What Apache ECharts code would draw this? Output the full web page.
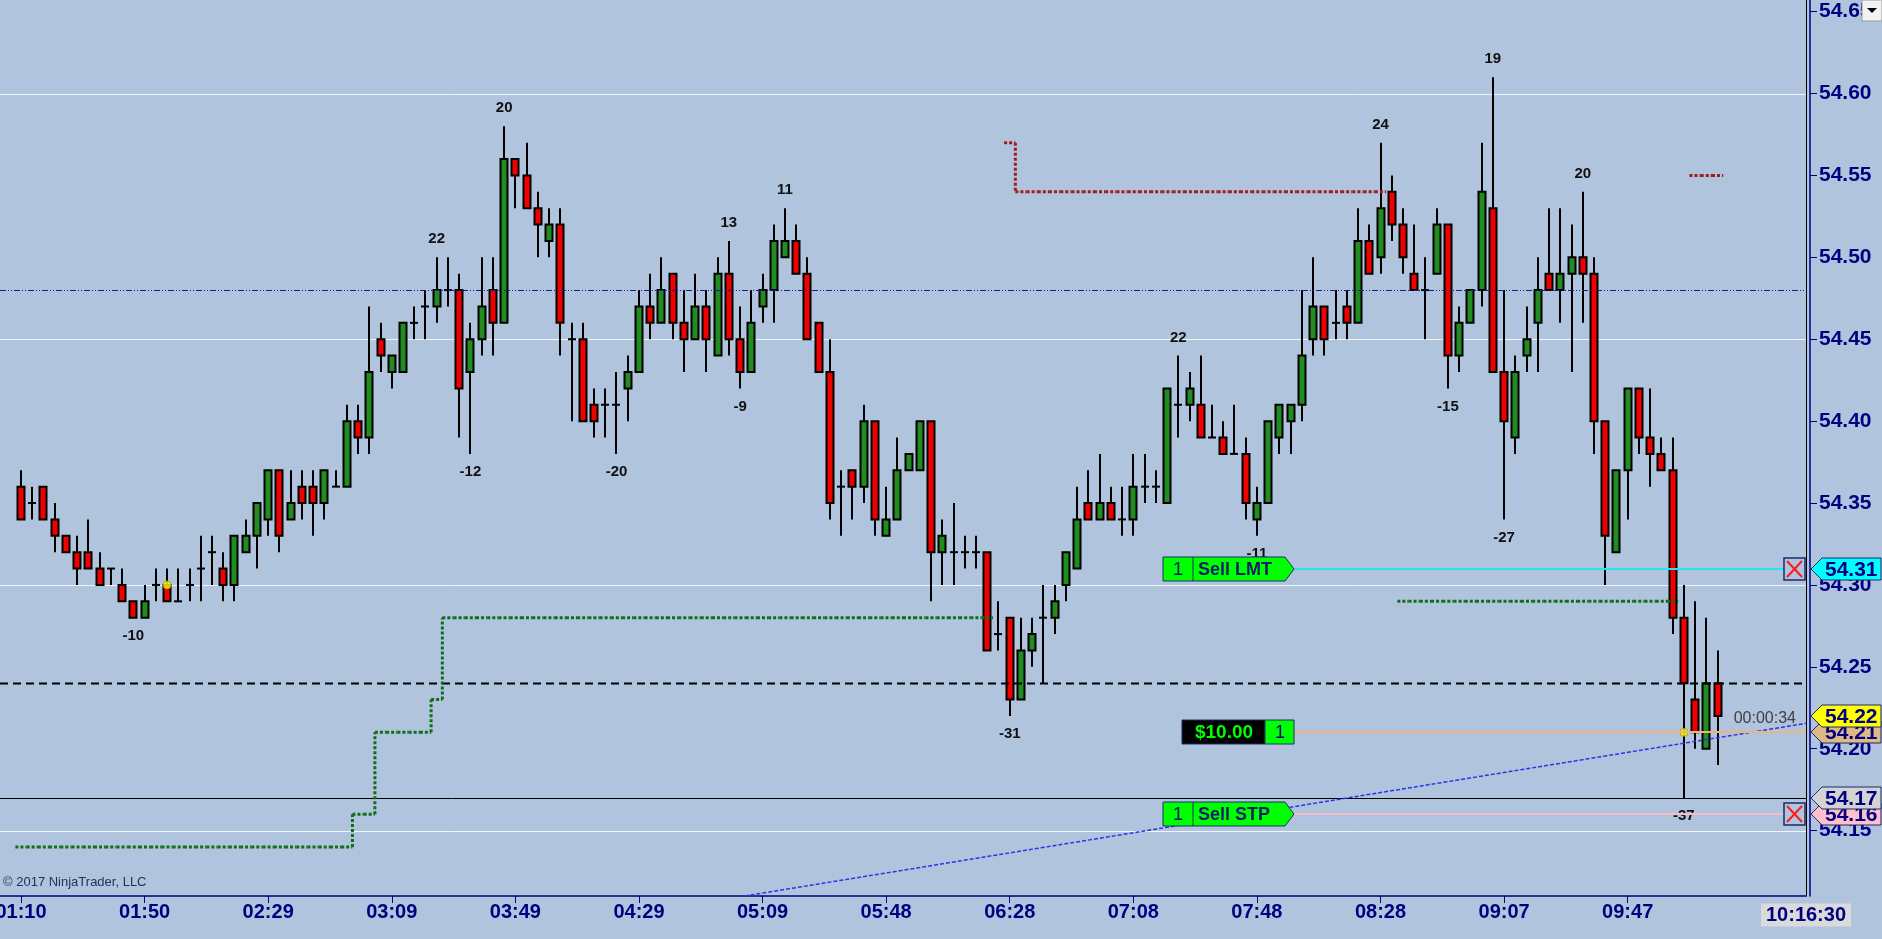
<!DOCTYPE html>
<html>
<head>
<meta charset="utf-8">
<title>NinjaTrader chart</title>
<script src="https://cdn.jsdelivr.net/npm/echarts@6.0.0/dist/echarts.min.js"></script>
<style>
html,body{margin:0;padding:0;background:#b0c4de;overflow:hidden;}
#chart{width:1882px;height:939px;}
</style>
</head>
<body>
<div id="chart"></div>
<script>
// ================= DATA =================
const opens = [
54.36,54.35,54.36,54.34,54.33,54.32,54.32,54.31,54.31,54.30,
54.29,54.28,54.30,54.30,54.29,54.30,54.31,54.32,54.31,54.30,
54.32,54.33,54.34,54.37,54.34,54.36,54.36,54.35,54.36,54.36,
54.40,54.39,54.45,54.43,54.43,54.46,54.47,54.47,54.48,54.48,
54.43,54.45,54.48,54.46,54.56,54.55,54.53,54.51,54.52,54.45,
54.45,54.41,54.41,54.41,54.42,54.43,54.47,54.46,54.49,54.46,
54.45,54.47,54.44,54.49,54.45,54.43,54.47,54.48,54.50,54.51,
54.49,54.46,54.43,54.36,54.37,54.36,54.40,54.33,54.34,54.37,
54.37,54.40,54.32,54.32,54.32,54.32,54.32,54.27,54.28,54.23,
54.26,54.28,54.28,54.30,54.31,54.35,54.34,54.35,54.34,54.34,
54.36,54.36,54.35,54.41,54.41,54.41,54.39,54.39,54.38,54.38,
54.34,54.35,54.39,54.40,54.41,54.45,54.47,54.46,54.47,54.46,
54.51,54.50,54.54,54.52,54.49,54.48,54.49,54.52,54.44,54.46,
54.48,54.53,54.43,54.39,54.44,54.46,54.49,54.48,54.49,54.50,
54.49,54.40,54.32,54.37,54.42,54.39,54.38,54.37,54.28,54.23,
54.20,54.24];
const highs = [
54.37,54.36,54.36,54.35,54.33,54.33,54.34,54.32,54.31,54.31,
54.29,54.30,54.31,54.31,54.31,54.31,54.33,54.33,54.32,54.33,
54.34,54.35,54.37,54.37,54.37,54.37,54.37,54.37,54.37,54.41,
54.41,54.47,54.46,54.44,54.46,54.47,54.48,54.50,54.50,54.49,
54.46,54.50,54.50,54.58,54.56,54.57,54.54,54.53,54.53,54.46,
54.46,54.42,54.42,54.43,54.44,54.48,54.49,54.50,54.49,54.48,
54.49,54.48,54.50,54.51,54.47,54.48,54.49,54.52,54.53,54.52,
54.50,54.46,54.45,54.37,54.37,54.41,54.40,54.36,54.39,54.38,
54.40,54.40,54.34,54.35,54.33,54.33,54.32,54.29,54.28,54.28,
54.28,54.30,54.30,54.32,54.36,54.37,54.38,54.36,54.36,54.38,
54.38,54.37,54.42,54.44,54.43,54.44,54.41,54.40,54.41,54.39,
54.36,54.40,54.41,54.41,54.48,54.50,54.47,54.48,54.48,54.53,
54.52,54.57,54.55,54.53,54.52,54.50,54.53,54.52,54.47,54.48,
54.57,54.61,54.48,54.44,54.47,54.50,54.53,54.53,54.52,54.54,
54.50,54.40,54.37,54.42,54.42,54.42,54.39,54.39,54.30,54.29,
54.28,54.26];
const lows = [
54.34,54.34,54.34,54.32,54.32,54.30,54.31,54.30,54.30,54.29,
54.28,54.28,54.29,54.29,54.29,54.29,54.29,54.30,54.29,54.29,
54.32,54.31,54.33,54.32,54.34,54.34,54.33,54.34,54.36,54.36,
54.38,54.38,54.43,54.42,54.43,54.45,54.45,54.46,54.47,54.39,
54.38,54.44,54.44,54.46,54.53,54.53,54.50,54.50,54.44,54.40,
54.40,54.39,54.39,54.38,54.40,54.43,54.45,54.46,54.45,54.43,
54.45,54.43,54.44,54.44,54.42,54.43,54.46,54.46,54.50,54.49,
54.45,54.43,54.34,54.33,54.34,54.35,54.33,54.33,54.34,54.37,
54.37,54.29,54.30,54.30,54.31,54.31,54.26,54.26,54.22,54.23,
54.25,54.24,54.27,54.29,54.31,54.34,54.34,54.34,54.33,54.33,
54.35,54.35,54.35,54.39,54.40,54.39,54.39,54.38,54.38,54.34,
54.33,54.35,54.38,54.38,54.40,54.44,54.44,54.45,54.45,54.46,
54.49,54.49,54.51,54.49,54.48,54.45,54.49,54.42,54.43,54.46,
54.47,54.43,54.34,54.38,54.43,54.43,54.48,54.46,54.43,54.46,
54.38,54.30,54.32,54.34,54.38,54.36,54.37,54.27,54.17,54.20,
54.20,54.19];
const closes = [
54.34,54.35,54.34,54.33,54.32,54.31,54.31,54.30,54.31,54.29,
54.28,54.29,54.30,54.29,54.29,54.30,54.31,54.32,54.30,54.33,
54.33,54.35,54.37,54.33,54.35,54.35,54.35,54.37,54.36,54.40,
54.39,54.43,54.44,54.44,54.46,54.46,54.47,54.48,54.48,54.42,
54.45,54.47,54.46,54.56,54.55,54.53,54.52,54.52,54.46,54.45,
54.40,54.40,54.41,54.41,54.43,54.47,54.46,54.48,54.46,54.45,
54.47,54.45,54.49,54.45,54.43,54.46,54.48,54.51,54.51,54.49,
54.45,54.43,54.35,54.36,54.36,54.40,54.34,54.34,54.37,54.38,
54.40,54.32,54.33,54.32,54.32,54.32,54.26,54.27,54.23,54.26,
54.27,54.28,54.29,54.32,54.34,54.34,54.35,54.34,54.34,54.36,
54.36,54.36,54.42,54.41,54.42,54.39,54.39,54.38,54.38,54.35,
54.35,54.40,54.41,54.41,54.44,54.47,54.45,54.46,54.46,54.51,
54.49,54.53,54.52,54.50,54.48,54.48,54.52,54.44,54.46,54.48,
54.54,54.43,54.40,54.43,54.45,54.48,54.48,54.49,54.50,54.49,
54.40,54.33,54.37,54.42,54.39,54.38,54.37,54.28,54.24,54.21,
54.24,54.22];

// x-axis ticks (bar index -> time label)
const tickBars   = [0, 11, 22, 33, 44, 55, 66, 77, 88, 99, 110, 121, 132, 143];
const tickLabels = ['01:10','01:50','02:29','03:09','03:49','04:29','05:09','05:48','06:28','07:08','07:48','08:28','09:07','09:47'];
const lastTimeLabel = '10:16:30';
// y-axis labels
const priceLabels = [54.15, 54.20, 54.25, 54.30, 54.35, 54.40, 54.45, 54.50, 54.55, 54.60, 54.65];
const gridLevels  = [54.15, 54.30, 54.45, 54.60];

// swing counters
const swingBars   = [10, 37, 40, 43, 53, 63, 64, 68, 88, 103, 110, 121, 127, 131, 132, 139, 148];
const swingValues = [-10, 22, -12, 20, -20, 13, -9, 11, -31, 22, -11, 24, -15, 19, -27, 20, -37];

// executions
const fillBars   = [13, 148];
const fillPrices = [54.30, 54.21];

// trailing stop plots
const longStopStart  = 0;
const longStopValues = [
54.14,54.14,54.14,54.14,54.14,54.14,54.14,54.14,54.14,54.14,
54.14,54.14,54.14,54.14,54.14,54.14,54.14,54.14,54.14,54.14,
54.14,54.14,54.14,54.14,54.14,54.14,54.14,54.14,54.14,54.14,
54.16,54.16,54.21,54.21,54.21,54.21,54.21,54.23,54.28,54.28,
54.28,54.28,54.28,54.28,54.28,54.28,54.28,54.28,54.28,54.28,
54.28,54.28,54.28,54.28,54.28,54.28,54.28,54.28,54.28,54.28,
54.28,54.28,54.28,54.28,54.28,54.28,54.28,54.28,54.28,54.28,
54.28,54.28,54.28,54.28,54.28,54.28,54.28,54.28,54.28,54.28,
54.28,54.28,54.28,54.28,54.28,54.28,54.28];
const shortStopStart  = 88;
const shortStopValues = [54.57,
54.54,54.54,54.54,54.54,54.54,54.54,54.54,54.54,54.54,54.54,
54.54,54.54,54.54,54.54,54.54,54.54,54.54,54.54,54.54,54.54,
54.54,54.54,54.54,54.54,54.54,54.54,54.54,54.54,54.54,54.54,
54.54,54.54,54.54];
const longStop2Start  = 123;
const longStop2Values = [
54.29,54.29,54.29,54.29,54.29,54.29,54.29,54.29,54.29,54.29,
54.29,54.29,54.29,54.29,54.29,54.29,54.29,54.29,54.29,54.29,
54.29,54.29,54.29,54.29,54.29];
const shortStop2Start  = 149;
const shortStop2Values = [54.55, 54.55, 54.55];

// horizontal reference lines
const dashDotLevel = 54.48;
const dashedLevel  = 54.24;
const solidLevel   = 54.17;

// trend line (bar index, price)
const trendPoints = [[64.4, 54.1101], [158.87, 54.2155]];

// orders
const orderTagBar = 113.3;
const orderPrices = [54.31, 54.21, 54.16];
const orderQty    = ['1', '1', '1'];
const orderNames  = ['Sell LMT', '$10.00', 'Sell STP'];
const orderKinds  = ['LMT', 'POS', 'STP'];

// right axis price markers (drawing order)
const markerPrices = [54.31, 54.21, 54.22, 54.16, 54.17];
const barTimer = '00:00:34';
const timerPrice = 54.22;

// ================= STYLE =================
const NAVY = '#000080';
const UP = '#228b22', DOWN = '#f00000';
const MARKER_FILL = ['#00ffff', '#deb887', '#ffff00', '#ffc0cb', '#d3d3d3'];
const ORDER_LINE = {LMT: '#22e6f2', POS: '#f0b478', STP: '#f4bccb'};
const AXIS_FONT = '"Liberation Sans", Arial, sans-serif';
const NARROW_FONT = '"Liberation Sans Narrow", "Liberation Sans", Arial, sans-serif';

const Y_MIN = 54.1101, Y_MAX = 54.6571;
const X_MIN = -1.869, X_MAX = 158.87;

// ================= CHART =================
const chart = echarts.init(document.getElementById('chart'), null, {renderer: 'canvas'});

const candleData = opens.map((o, i) => [i, o, closes[i], lows[i], highs[i]]);

function candleItem(params, api) {
  const i = api.value(0), o = api.value(1), c = api.value(2), l = api.value(3), h = api.value(4);
  const pO = api.coord([i, o]), pC = api.coord([i, c]), pL = api.coord([i, l]), pH = api.coord([i, h]);
  const x = Math.round(pO[0]);
  const children = [{
    type: 'line', shape: {x1: x, y1: pH[1], x2: x, y2: pL[1]},
    style: {stroke: '#000', lineWidth: 2}
  }];
  if (o === c) {
    children.push({type: 'line', shape: {x1: x - 4, y1: pO[1], x2: x + 4, y2: pO[1]}, style: {stroke: '#000', lineWidth: 2}});
  } else {
    const top = Math.min(pO[1], pC[1]), bot = Math.max(pO[1], pC[1]);
    children.push({type: 'rect', shape: {x: x - 3.5, y: top, width: 7, height: bot - top},
      style: {fill: c > o ? UP : DOWN, stroke: '#000', lineWidth: 2}});
  }
  return {type: 'group', children};
}

function stopData(start, values) {
  return values.map((v, k) => [start + k, v, k > 0 ? values[k - 1] : 0]);
}
function stopRenderer(color) {
  return function (params, api) {
    const i = api.value(0), v = api.value(1), pv = api.value(2);
    const a = api.coord([i - 0.5, v]), b = api.coord([i + 0.5, v]);
    const st = {stroke: color, lineWidth: 3, lineDash: [3, 2]};
    const children = [{type: 'line', shape: {x1: a[0], y1: a[1], x2: b[0], y2: b[1]}, style: st}];
    if (pv > 0 && pv !== v) {
      const c = api.coord([i - 0.5, pv]);
      children.push({type: 'line', shape: {x1: a[0], y1: c[1], x2: a[0], y2: a[1]}, style: st});
    }
    return {type: 'group', children};
  };
}

function hLevel(params, api) {
  const cs = params.coordSys;
  const y = Math.round(api.coord([0, api.value(0)])[1]) + 0.5;
  const kind = api.value(1);
  let style;
  if (kind === 0) style = {stroke: '#f2f5fa', lineWidth: 1};
  else if (kind === 1) style = {stroke: '#1a1a90', lineWidth: 1, lineDash: [6, 2, 1, 2, 1, 2]};
  else if (kind === 2) style = {stroke: '#000', lineWidth: 2, lineDash: [8, 5]};
  else style = {stroke: '#000', lineWidth: 1};
  return {type: 'line', shape: {x1: cs.x, y1: y, x2: cs.x + cs.width, y2: y}, style};
}
const levelData = gridLevels.map(p => [p, 0]).concat([[dashDotLevel, 1], [dashedLevel, 2], [solidLevel, 3]]);

function swingItem(params, api) {
  const i = api.value(0), v = api.value(1);
  const up = v > 0;
  const p = api.coord([i, up ? highs[i] : lows[i]]);
  return {type: 'text', x: p[0], y: p[1] + (up ? -18 : 18),
    style: {text: String(v), fill: '#111', font: 'bold 15px ' + AXIS_FONT, align: 'center', verticalAlign: 'middle',
      textAlign: 'center', textVerticalAlign: 'middle'}};
}

function orderItem(params, api) {
  const cs = params.coordSys;
  const k = api.value(2);
  const kind = orderKinds[k];
  const p = api.coord([api.value(0), api.value(1)]);
  const xe = Math.round(p[0]), y = Math.round(p[1]);
  const right = cs.x + cs.width;
  const boxW = 22;
  const children = [];
  const lineEnd = kind === 'POS' ? right : right - boxW;
  children.push({type: 'line', shape: {x1: xe, y1: y, x2: lineEnd, y2: y}, style: {stroke: ORDER_LINE[kind], lineWidth: 2}});
  const h = 12;
  const txt = (t, x, color, font, align) => ({type: 'text', x, y: y + 1,
    style: {text: t, fill: color, font, align: align || 'center', verticalAlign: 'middle',
      textAlign: align || 'center', textVerticalAlign: 'middle'}});
  if (kind === 'POS') {
    children.push({type: 'rect', shape: {x: xe - 112, y: y - h, width: 83, height: 2 * h}, style: {fill: '#000', stroke: '#1a2f6a', lineWidth: 1}});
    children.push({type: 'rect', shape: {x: xe - 29, y: y - h, width: 29, height: 2 * h}, style: {fill: '#00ff00', stroke: '#1a2f6a', lineWidth: 1}});
    children.push(txt(orderNames[k], xe - 70, '#00ff00', 'bold 19px ' + AXIS_FONT));
    children.push(txt(orderQty[k], xe - 14, NAVY, '18px ' + AXIS_FONT));
  } else {
    const left = xe - 131;
    children.push({type: 'polygon', shape: {points: [[left, y - h], [xe - 9, y - h], [xe, y], [xe - 9, y + h], [left, y + h]]},
      style: {fill: '#00ff00', stroke: '#1a2f6a', lineWidth: 1}});
    children.push({type: 'line', shape: {x1: left + 30, y1: y - h, x2: left + 30, y2: y + h}, style: {stroke: '#1a2f6a', lineWidth: 1}});
    children.push(txt(orderQty[k], left + 15, '#0a1f6a', '19px ' + AXIS_FONT));
    children.push(txt(orderNames[k], left + 35, '#0a1f6a', 'bold 18px ' + AXIS_FONT, 'left'));
    // cancel box
    const bx = right - boxW, by = y - 11;
    children.push({type: 'rect', shape: {x: bx, y: by, width: boxW - 1, height: 22}, style: {fill: 'rgba(0,0,0,0)', stroke: '#1a2a6a', lineWidth: 1.5}});
    children.push({type: 'line', shape: {x1: bx + 3, y1: by + 3, x2: bx + boxW - 4, y2: by + 19}, style: {stroke: '#ff1a1a', lineWidth: 2}});
    children.push({type: 'line', shape: {x1: bx + boxW - 4, y1: by + 3, x2: bx + 3, y2: by + 19}, style: {stroke: '#ff1a1a', lineWidth: 2}});
  }
  return {type: 'group', children};
}

function markerItem(params, api) {
  const cs = params.coordSys;
  const k = api.value(1);
  const y = Math.round(api.coord([0, api.value(0)])[1]);
  const ax = cs.x + cs.width + 5;
  const h = 11;
  return {type: 'group', children: [
    {type: 'polygon', shape: {points: [[ax, y], [ax + 11, y - h], [1881, y - h], [1881, y + h], [ax + 11, y + h]]},
      style: {fill: MARKER_FILL[k], stroke: '#1a2a6a', lineWidth: 1}},
    {type: 'text', x: ax + 14, y: y + 1, style: {text: api.value(0).toFixed(2), fill: NAVY, font: 'bold 21px ' + AXIS_FONT,
      align: 'left', verticalAlign: 'middle', textAlign: 'left', textVerticalAlign: 'middle'}}
  ]};
}

function timerItem(params, api) {
  const cs = params.coordSys;
  const y = api.coord([0, api.value(0)])[1];
  return {type: 'text', x: cs.x + cs.width - 10, y: y + 3,
    style: {text: barTimer, fill: '#404040', font: '16px ' + AXIS_FONT, align: 'right', verticalAlign: 'middle',
      textAlign: 'right', textVerticalAlign: 'middle'}};
}

const option = {
  backgroundColor: '#b0c4de',
  animation: false,
  grid: {left: 0, right: 76, top: 0, bottom: 43, outerBoundsMode: 'none', containLabel: false},
  xAxis: {
    type: 'value', min: X_MIN, max: X_MAX,
    axisLine: {show: true, onZero: false, lineStyle: {color: NAVY, width: 1.5}},
    axisTick: {show: true, length: 7, lineStyle: {color: NAVY, width: 1}, customValues: tickBars},
    axisLabel: {show: true, customValues: tickBars, margin: 6, color: NAVY,
      fontFamily: AXIS_FONT, fontWeight: 'bold', fontSize: 20,
      formatter: v => tickLabels[tickBars.indexOf(Math.round(v))] || ''},
    splitLine: {show: false}
  },
  yAxis: [{
    type: 'value', position: 'right', offset: 4, min: Y_MIN, max: Y_MAX,
    axisLine: {show: true, onZero: false, lineStyle: {color: NAVY, width: 1.5}},
    axisTick: {show: true, length: 7, lineStyle: {color: NAVY, width: 1}, customValues: priceLabels},
    axisLabel: {show: true, customValues: priceLabels, margin: 9, color: NAVY,
      fontFamily: AXIS_FONT, fontWeight: 'bold', fontSize: 21, formatter: v => v.toFixed(2)},
    splitLine: {show: false}
  }, {
    type: 'value', position: 'right', offset: 0, min: Y_MIN, max: Y_MAX,
    axisLine: {show: true, onZero: false, lineStyle: {color: '#000', width: 1}},
    axisTick: {show: false}, axisLabel: {show: false}, splitLine: {show: false}
  }],
  series: [
    {type: 'custom', name: 'grid', z: 1, silent: true, renderItem: hLevel,
      data: levelData.filter(d => d[1] === 0), encode: {y: 0}},
    {type: 'custom', name: 'candles', z: 3, renderItem: candleItem, data: candleData,
      dimensions: ['bar', 'open', 'close', 'low', 'high'], encode: {x: 0, y: [1, 2, 3, 4]}},
    {type: 'custom', name: 'levels', z: 4, silent: true, renderItem: hLevel,
      data: levelData.filter(d => d[1] !== 0), encode: {y: 0}},
    {type: 'custom', name: 'longStop', z: 4, renderItem: stopRenderer('#0f6e1a'),
      data: stopData(longStopStart, longStopValues), encode: {x: 0, y: 1}},
    {type: 'custom', name: 'longStop2', z: 4, renderItem: stopRenderer('#0f6e1a'),
      data: stopData(longStop2Start, longStop2Values), encode: {x: 0, y: 1}},
    {type: 'custom', name: 'shortStop', z: 4, renderItem: stopRenderer('#a01c1c'),
      data: stopData(shortStopStart, shortStopValues), encode: {x: 0, y: 1}},
    {type: 'custom', name: 'shortStop2', z: 4, renderItem: stopRenderer('#a01c1c'),
      data: stopData(shortStop2Start, shortStop2Values), encode: {x: 0, y: 1}},
    {type: 'line', name: 'trend', z: 5, data: trendPoints, symbol: 'none', silent: true,
      lineStyle: {color: '#3232e6', width: 1.5, type: [4, 2]}},
    {type: 'scatter', name: 'fills', z: 6, data: fillBars.map((b, k) => [b, fillPrices[k]]),
      symbol: 'circle', symbolSize: 8, itemStyle: {color: '#ffff00', borderColor: '#a89000', borderWidth: 1}},
    {type: 'custom', name: 'swings', z: 6, renderItem: swingItem,
      data: swingBars.map((b, k) => [b, swingValues[k]]), encode: {x: 0}},
    {type: 'custom', name: 'orders', z: 7, clip: false, renderItem: orderItem,
      data: orderPrices.map((p, k) => [orderTagBar, p, k]), encode: {x: 0, y: 1}},
    {type: 'custom', name: 'timer', z: 7, clip: false, renderItem: timerItem,
      data: [[timerPrice]], encode: {y: 0}},
    {type: 'custom', name: 'markers', z: 8, clip: false, renderItem: markerItem,
      data: markerPrices.map((p, k) => [p, k]), encode: {y: 0}}
  ],
  graphic: [
    {type: 'text', x: 3, y: 882, z: 10, style: {text: '© 2017 NinjaTrader, LLC', fill: '#26305a', font: '13px ' + NARROW_FONT,
      verticalAlign: 'middle', textVerticalAlign: 'middle'}},
    {type: 'text', x: 1806, y: 915, z: 10, style: {text: lastTimeLabel, fill: NAVY, font: 'bold 20px ' + AXIS_FONT,
      backgroundColor: '#dadada', padding: [2, 5, 1, 5], align: 'center', verticalAlign: 'middle',
      textAlign: 'center', textVerticalAlign: 'middle'}},
    {type: 'rect', x: 1862, y: 0, z: 10, shape: {width: 20, height: 21}, style: {fill: '#f2f2f2', stroke: '#9a9a9a', lineWidth: 1}},
    {type: 'polygon', z: 11, shape: {points: [[1867, 8], [1877, 8], [1872, 13]]}, style: {fill: '#000'}}
  ]
};
chart.setOption(option);
</script>
</body>
</html>
